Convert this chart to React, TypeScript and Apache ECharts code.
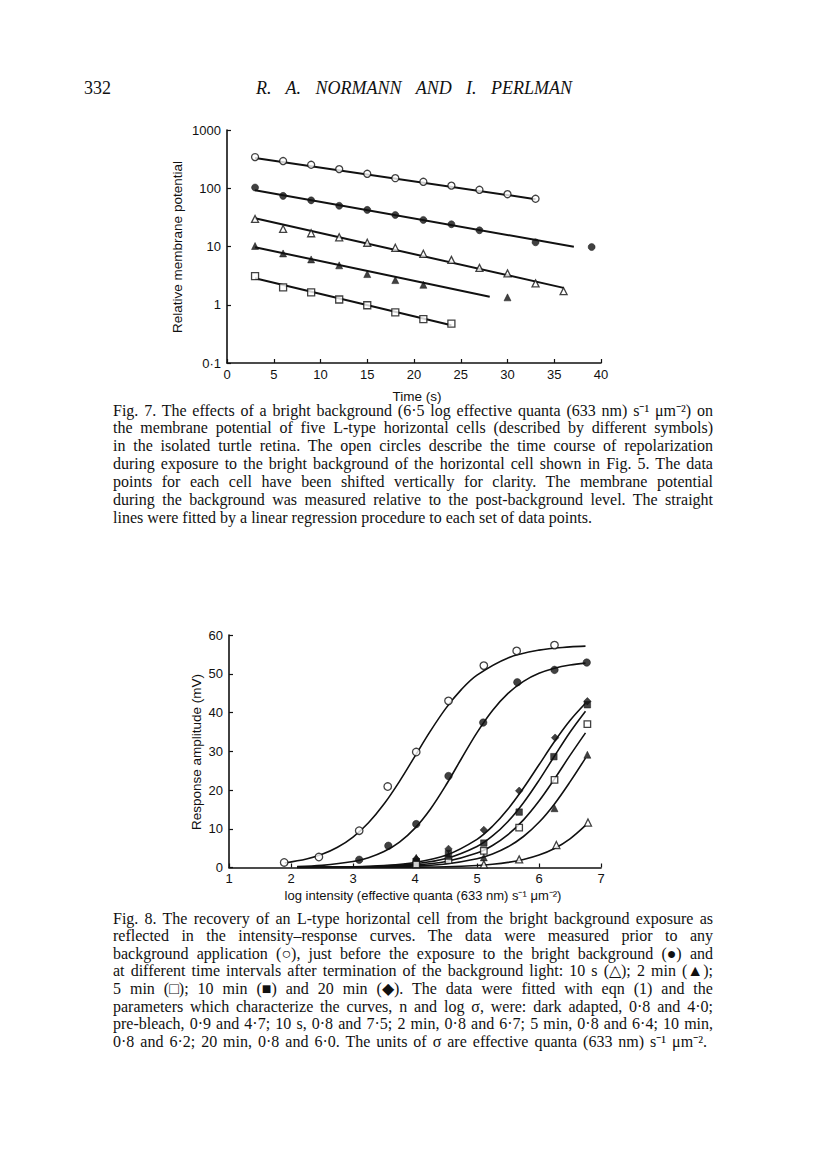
import React, { useEffect, useRef } from "react";
import * as echarts from "echarts";

// ---------- Fig. 7 data (time in s, relative membrane potential) ----------
const f7OpenCircleT = [3, 6, 9, 12, 15, 18, 21, 24, 27, 30, 33];
const f7OpenCircleV = [343, 293, 253, 213, 177, 149, 129, 111, 94, 79, 66];
const f7OpenCircleFitT = [3, 33];
const f7OpenCircleFitV = [330, 65];

const f7FilledCircleT = [3, 6, 9, 12, 15, 18, 21, 24, 27, 33, 39];
const f7FilledCircleV = [103, 74, 62, 50, 42.5, 34.8, 28.6, 24.1, 19.0, 11.8, 9.8];
const f7FilledCircleFitT = [3, 37.1];
const f7FilledCircleFitV = [92, 9.9];

const f7OpenTriT = [3, 6, 9, 12, 15, 18, 21, 24, 27, 30, 33, 36];
const f7OpenTriV = [29.7, 20, 16.9, 14.4, 11.6, 9.5, 7.5, 5.9, 4.3, 3.46, 2.33, 1.71];
const f7OpenTriFitT = [3, 36];
const f7OpenTriFitV = [30.5, 1.95];

const f7FilledTriT = [3, 6, 9, 12, 15, 18, 21, 30];
const f7FilledTriV = [10.2, 7.6, 6.0, 4.75, 3.36, 2.65, 2.2, 1.34];
const f7FilledTriFitT = [3, 28.1];
const f7FilledTriFitV = [9.7, 1.37];

const f7OpenSqT = [3, 6, 9, 12, 15, 18, 21, 24];
const f7OpenSqV = [3.1, 1.99, 1.63, 1.23, 0.98, 0.74, 0.565, 0.476];
const f7OpenSqFitT = [3, 24];
const f7OpenSqFitV = [2.84, 0.446];

const f7XTicks = [0, 5, 10, 15, 20, 25, 30, 35, 40];
const f7YTicks = [0.1, 1, 10, 100, 1000];

// ---------- Fig. 8 data (log intensity, response amplitude mV) ----------
const f8DarkX = [1.89, 2.45, 3.1, 3.56, 4.02, 4.54, 5.11, 5.64, 6.25];
const f8DarkY = [1.3, 2.7, 9.5, 20.9, 29.8, 43, 52.1, 55.9, 57.4];
const f8DarkCurveX = [1.9, 2.25, 2.5, 2.75, 3, 3.25, 3.5, 3.75, 4, 4.25, 4.5, 4.75, 5, 5.5, 6, 6.5, 6.75];
const f8DarkCurveY = [1.18, 2.2, 3.41, 5.23, 7.87, 11.55, 16.37, 22.24, 28.75, 35.25, 41.13, 45.96, 49.65, 54.09, 56.09, 56.93, 57.14];

const f8PreX = [3.1, 3.57, 4.02, 4.54, 5.1, 5.65, 6.25, 6.77];
const f8PreY = [2.0, 5.6, 11.2, 23.6, 37.4, 47.8, 51, 52.9];
const f8PreCurveX = [2.1, 2.5, 3, 3.25, 3.5, 3.75, 4, 4.25, 4.5, 4.75, 5, 5.25, 5.5, 5.75, 6, 6.25, 6.5, 6.75];
const f8PreCurveY = [0.24, 0.55, 1.53, 2.53, 4.11, 6.56, 10.16, 15.11, 21.28, 28.13, 34.81, 40.53, 44.94, 48.05, 50.11, 51.43, 52.25, 52.75];

const f8LowCurveX = [2.1, 3, 3.5, 4, 4.5, 5, 5.25, 5.5, 5.75, 6, 6.25, 6.5, 6.75];

const f8Min20X = [4.02, 4.54, 5.11, 5.68, 6.26, 6.78];
const f8Min20Y = [2.2, 4.8, 9.7, 19.8, 33.5, 42.9];
const f8Min20CurveY = [0.04, 0.21, 0.52, 1.3, 3.15, 7.27, 10.64, 15.09, 20.5, 26.5, 32.5, 37.91, 42.37];

const f8Min10X = [4.02, 4.54, 5.11, 5.68, 6.24, 6.78];
const f8Min10Y = [1.5, 3.6, 6.3, 14.3, 28.6, 42];
const f8Min10CurveY = [0.03, 0.15, 0.38, 0.94, 2.3, 5.43, 8.15, 11.88, 16.72, 22.49, 28.77, 34.92, 40.35];

const f8Min5X = [4.02, 4.54, 5.11, 5.68, 6.25, 6.78];
const f8Min5Y = [0.8, 1.9, 4.3, 10.3, 22.6, 37];
const f8Min5CurveY = [0.02, 0.1, 0.25, 0.63, 1.55, 3.74, 5.69, 8.48, 12.3, 17.15, 22.86, 28.93, 34.75];

const f8Min2X = [4.02, 4.54, 5.11, 6.25, 6.78];
const f8Min2Y = [2.5, 3.0, 2.6, 15.3, 29.1];
const f8Min2CurveY = [0.01, 0.06, 0.15, 0.37, 0.92, 2.26, 3.49, 5.34, 8.0, 11.66, 16.41, 22.09, 28.24];

const f8Sec10X = [5.11, 5.68, 6.28, 6.79];
const f8Sec10Y = [0.8, 2.1, 5.8, 11.6];
const f8Sec10CurveY = [0, 0.01, 0.03, 0.09, 0.21, 0.53, 0.84, 1.32, 2.07, 3.21, 4.91, 7.4, 10.86];

// ---------- Texts ----------
const pageNumber = "332";
const runningHead = "R. A. NORMANN AND I. PERLMAN";
const fig7XName = "Time (s)";
const fig7YName = "Relative membrane potential";
const fig8XName = "log intensity (effective quanta (633 nm) s\u207B\u00B9 \u03BCm\u207B\u00B2)";
const fig8YName = "Response amplitude (mV)";
const fig7Caption = [
  "Fig. 7. The effects of a bright background (6\u00B75 log effective quanta (633 nm) s\u207B\u00B9 \u03BCm\u207B\u00B2) on",
  "the membrane potential of five L-type horizontal cells (described by different symbols)",
  "in the isolated turtle retina. The open circles describe the time course of repolarization",
  "during exposure to the bright background of the horizontal cell shown in Fig. 5. The data",
  "points for each cell have been shifted vertically for clarity. The membrane potential",
  "during the background was measured relative to the post-background level. The straight",
  "lines were fitted by a linear regression procedure to each set of data points.",
];
const fig8Caption = [
  "Fig. 8. The recovery of an L-type horizontal cell from the bright background exposure as",
  "reflected in the intensity\u2013response curves. The data were measured prior to any",
  "background application (\u25CB), just before the exposure to the bright background (\u25CF) and",
  "at different time intervals after termination of the background light: 10 s (\u25B3); 2 min (\u25B2);",
  "5 min (\u25A1); 10 min (\u25A0) and 20 min (\u25C6). The data were fitted with eqn (1) and the",
  "parameters which characterize the curves, n and log \u03C3, were: dark adapted, 0\u00B78 and 4\u00B70;",
  "pre-bleach, 0\u00B79 and 4\u00B77; 10 s, 0\u00B78 and 7\u00B75; 2 min, 0\u00B78 and 6\u00B77; 5 min, 0\u00B78 and 6\u00B74; 10 min,",
  "0\u00B78 and 6\u00B72; 20 min, 0\u00B78 and 6\u00B70. The units of \u03C3 are effective quanta (633 nm) s\u207B\u00B9 \u03BCm\u207B\u00B2.",
];

const INK = "#111";
const SANS = "'Liberation Sans', Arial, sans-serif";
const SERIF = "'Liberation Serif', 'Times New Roman', serif";
const CAPTION_LEFT = 113;
const CAPTION_WIDTH = 600;

const pairs = (xs: number[], ys: number[]) => xs.map((x, i) => [x, ys[i]]);

function scatter(name: string, xs: number[], ys: number[], symbol: string, filled: boolean, size: number, axis: number) {
  return {
    name,
    type: "scatter",
    xAxisIndex: axis,
    yAxisIndex: axis,
    data: pairs(xs, ys),
    symbol,
    symbolSize: size,
    z: 4,
    silent: true,
    itemStyle: filled
      ? { color: INK, borderColor: INK, borderWidth: 0.6 }
      : { color: "#fff", borderColor: INK, borderWidth: 1.3 },
  };
}

function line(name: string, xs: number[], ys: number[], width: number, axis: number, smooth: boolean) {
  return {
    name,
    type: "line",
    xAxisIndex: axis,
    yAxisIndex: axis,
    data: pairs(xs, ys),
    symbol: "none",
    smooth: smooth ? 0.35 : false,
    z: 3,
    silent: true,
    lineStyle: { color: INK, width },
  };
}

function axisCommon() {
  return {
    axisLine: { show: true, onZero: false, lineStyle: { color: INK, width: 1.6 } },
    axisTick: { show: true, inside: true, length: 4, lineStyle: { color: INK, width: 1.2 } },
    splitLine: { show: false },
    minorTick: { show: false },
  };
}

function captionTexts(lines: string[], x: number, y0: number, dy: number) {
  return lines.map((t, i) => ({
    type: "text",
    x,
    y: y0 + i * dy,
    silent: true,
    style: {
      text: t,
      font: `16px ${SERIF}`,
      fill: INK,
      textAlign: "left",
      textVerticalAlign: "middle",
    },
  }));
}

export default function App() {
  const ref = useRef<HTMLDivElement>(null);

  useEffect(() => {
    if (!ref.current) return;
    const el = ref.current;
    const chart = echarts.init(el, undefined, { renderer: "svg" });

    const option: any = {
      animation: false,
      backgroundColor: "#fff",
      grid: [
        { left: 227, top: 130, width: 374, height: 233, containLabel: false },
        { left: 229, top: 635, width: 372, height: 232.5, containLabel: false },
      ],
      xAxis: [
        {
          gridIndex: 0,
          type: "value",
          min: f7XTicks[0],
          max: f7XTicks[f7XTicks.length - 1],
          interval: 5,
          ...axisCommon(),
          axisLabel: { color: INK, fontSize: 13, fontFamily: SANS, margin: 5 },
        },
        {
          gridIndex: 1,
          type: "value",
          min: 1,
          max: 7,
          interval: 1,
          ...axisCommon(),
          axisLabel: { color: INK, fontSize: 13, fontFamily: SANS, margin: 4 },
        },
      ],
      yAxis: [
        {
          gridIndex: 0,
          type: "log",
          logBase: 10,
          min: f7YTicks[0],
          max: f7YTicks[f7YTicks.length - 1],
          ...axisCommon(),
          axisLabel: {
            color: INK,
            fontSize: 13,
            fontFamily: SANS,
            margin: 6,
            formatter: (v: number) => (v < 1 ? String(v).replace(".", "\u00B7") : String(v)),
          },
        },
        {
          gridIndex: 1,
          type: "value",
          min: 0,
          max: 60,
          interval: 10,
          ...axisCommon(),
          axisLabel: { color: INK, fontSize: 13, fontFamily: SANS, margin: 6 },
        },
      ],
      series: [
        line("f7 open circle fit", f7OpenCircleFitT, f7OpenCircleFitV, 2, 0, false),
        line("f7 filled circle fit", f7FilledCircleFitT, f7FilledCircleFitV, 2, 0, false),
        line("f7 open triangle fit", f7OpenTriFitT, f7OpenTriFitV, 2, 0, false),
        line("f7 filled triangle fit", f7FilledTriFitT, f7FilledTriFitV, 2, 0, false),
        line("f7 open square fit", f7OpenSqFitT, f7OpenSqFitV, 2, 0, false),
        scatter("f7 open circles", f7OpenCircleT, f7OpenCircleV, "circle", false, 7, 0),
        scatter("f7 filled circles", f7FilledCircleT, f7FilledCircleV, "circle", true, 7, 0),
        scatter("f7 open triangles", f7OpenTriT, f7OpenTriV, "triangle", false, 7, 0),
        scatter("f7 filled triangles", f7FilledTriT, f7FilledTriV, "triangle", true, 7, 0),
        scatter("f7 open squares", f7OpenSqT, f7OpenSqV, "rect", false, 7, 0),
        line("dark adapted curve", f8DarkCurveX, f8DarkCurveY, 1.6, 1, true),
        line("pre-bleach curve", f8PreCurveX, f8PreCurveY, 1.6, 1, true),
        line("20 min curve", f8LowCurveX, f8Min20CurveY, 1.6, 1, true),
        line("10 min curve", f8LowCurveX, f8Min10CurveY, 1.6, 1, true),
        line("5 min curve", f8LowCurveX, f8Min5CurveY, 1.6, 1, true),
        line("2 min curve", f8LowCurveX, f8Min2CurveY, 1.6, 1, true),
        line("10 s curve", f8LowCurveX, f8Sec10CurveY, 1.6, 1, true),
        scatter("dark adapted", f8DarkX, f8DarkY, "circle", false, 7.5, 1),
        scatter("pre-bleach", f8PreX, f8PreY, "circle", true, 7.5, 1),
        scatter("20 min", f8Min20X, f8Min20Y, "diamond", true, 7.5, 1),
        scatter("10 min", f8Min10X, f8Min10Y, "rect", true, 6.5, 1),
        scatter("5 min", f8Min5X, f8Min5Y, "rect", false, 6.5, 1),
        scatter("2 min", f8Min2X, f8Min2Y, "triangle", true, 7, 1),
        scatter("10 s", f8Sec10X, f8Sec10Y, "triangle", false, 7, 1),
      ],
      graphic: [
        {
          type: "text",
          x: 84,
          y: 88,
          silent: true,
          style: { text: pageNumber, font: `18px ${SERIF}`, fill: INK, textAlign: "left", textVerticalAlign: "middle" },
        },
        {
          type: "text",
          x: 256,
          y: 88,
          silent: true,
          style: { text: runningHead, font: `italic 18px ${SERIF}`, fill: INK, textAlign: "left", textVerticalAlign: "middle" },
        },
        {
          type: "text",
          x: 417,
          y: 396,
          silent: true,
          style: { text: fig7XName, font: `13.5px ${SANS}`, fill: INK, textAlign: "center", textVerticalAlign: "middle" },
        },
        {
          type: "text",
          x: 177,
          y: 247,
          rotation: Math.PI / 2,
          silent: true,
          style: { text: fig7YName, font: `13.5px ${SANS}`, fill: INK, textAlign: "center", textVerticalAlign: "middle" },
        },
        {
          type: "text",
          x: 423,
          y: 895,
          silent: true,
          style: { text: fig8XName, font: `13px ${SANS}`, fill: INK, textAlign: "center", textVerticalAlign: "middle" },
        },
        {
          type: "text",
          x: 196,
          y: 752,
          rotation: Math.PI / 2,
          silent: true,
          style: { text: fig8YName, font: `13.5px ${SANS}`, fill: INK, textAlign: "center", textVerticalAlign: "middle" },
        },
        ...captionTexts(fig7Caption, CAPTION_LEFT, 410, 17.9),
        ...captionTexts(fig8Caption, CAPTION_LEFT, 918, 17.6),
      ],
    };

    chart.setOption(option);

    // Justify caption lines (not a paragraph's short last line) and the running head by widening word spaces.
    const targets = new Map<string, number>();
    fig7Caption.slice(0, -1).forEach((t) => targets.set(t, CAPTION_WIDTH));
    fig8Caption.slice(0, -1).forEach((t) => targets.set(t, CAPTION_WIDTH));
    targets.set(fig8Caption[fig8Caption.length - 1], 594);
    targets.set(runningHead, 316);
    const justify = () => {
      el.querySelectorAll("text").forEach((node) => {
        const txt = node.textContent || "";
        const w = targets.get(txt);
        if (!w) return;
        const svgText = node as unknown as SVGTextContentElement;
        svgText.removeAttribute("word-spacing");
        const natural = svgText.getComputedTextLength();
        const spaces = (txt.match(/ /g) || []).length;
        if (spaces > 0 && natural > 0 && w > natural) {
          const extra = (w - natural) / spaces;
          svgText.setAttribute("word-spacing", extra.toFixed(2));
        }
      });
    };
    justify();
    chart.on("finished", justify);
    const timer = window.setTimeout(justify, 30);

    return () => {
      window.clearTimeout(timer);
      chart.dispose();
    };
  }, []);

  return (
    <div
      ref={ref}
      style={{ position: "absolute", left: 0, top: 0, width: 816, height: 1160, background: "#fff" }}
    />
  );
}
